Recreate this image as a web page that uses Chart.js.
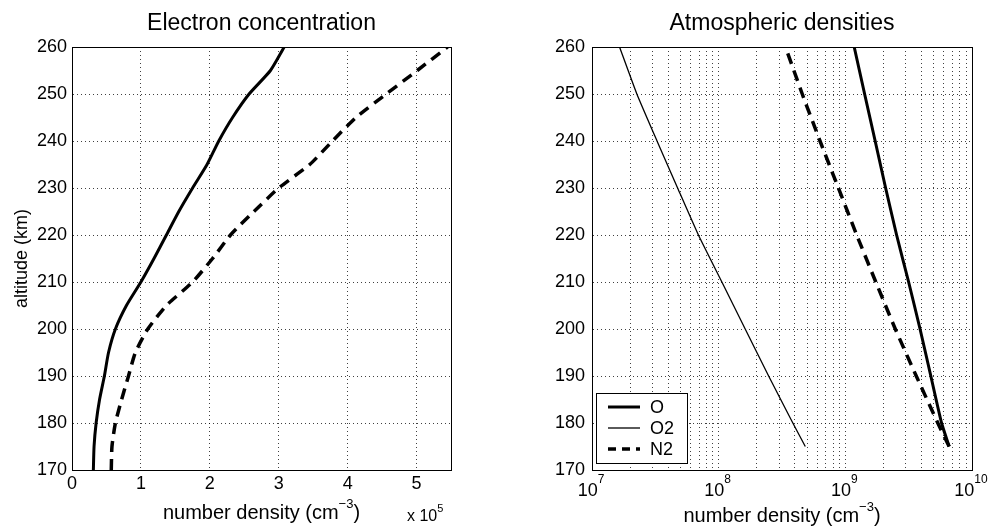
<!DOCTYPE html>
<html>
<head>
<meta charset="utf-8">
<script src="https://cdn.jsdelivr.net/npm/chart.js@4.4.1/dist/chart.umd.min.js"></script>
<style>
  html, body { margin: 0; padding: 0; background: #fff; }
  body { width: 991px; height: 526px; position: relative; overflow: hidden; }
  .plot { position: absolute; top: 0; }
  #left-wrap { left: 0; }
  #right-wrap { left: 495px; }
</style>
</head>
<body>
<div class="plot" id="left-wrap"><canvas id="electronChart" width="480" height="526"></canvas></div>
<div class="plot" id="right-wrap"><canvas id="densityChart" width="496" height="526"></canvas></div>
<script>
const FONT = '"Liberation Sans", Arial, Helvetica, sans-serif';

// Electron concentration, values in units of 1e5 cm^-3
const electronAltitudes = [170, 175, 180, 185, 190, 195, 200, 205, 210, 215, 220, 225, 230, 235, 240, 245, 250, 255, 260];
const electronSolid  = [0.31, 0.32, 0.35, 0.40, 0.47, 0.53, 0.63, 0.79, 1.00, 1.19, 1.37, 1.55, 1.75, 1.96, 2.13, 2.33, 2.57, 2.88, 3.08];
const electronDashed = [0.57, 0.58, 0.63, 0.72, 0.82, 0.92, 1.10, 1.37, 1.75, 2.04, 2.30, 2.64, 3.00, 3.45, 3.78, 4.12, 4.56, 5.01, 5.45];
const electronTicks = [0, 1, 2, 3, 4, 5];

// Atmospheric densities, cm^-3
const densityAltitudes = [175, 180, 190, 200, 210, 220, 230, 240, 250, 260];
const densityO  = [6.6e9, 5.75e9, 4.73e9, 3.89e9, 3.16e9, 2.54e9, 2.08e9, 1.72e9, 1.42e9, 1.175e9];
const densityO2 = [4.83e8, 3.85e8, 2.48e8, 1.62e8, 1.06e8, 6.92e7, 4.74e7, 3.26e7, 2.26e7, 1.65e7];
const densityN2 = [6.6e9, 5.37e9, 3.63e9, 2.48e9, 1.74e9, 1.23e9, 8.81e8, 6.31e8, 4.57e8, 3.37e8];
const densityDecades = [7, 8, 9, 10];

const altitudeTicks = [170, 180, 190, 200, 210, 220, 230, 240, 250, 260];

// Helpers
function toPoints(values, altitudes) {
    return values.map((v, i) => ({ x: v, y: altitudes[i] }));
}

// Draw a string made of pieces (normal text + superscripts), centered or left aligned
function drawRichText(ctx, pieces, x, y, align) {
    ctx.save();
    ctx.textBaseline = 'middle';
    ctx.textAlign = 'left';
    ctx.fillStyle = '#000';
    let total = 0;
    pieces.forEach(p => {
        ctx.font = `${p.size}px ${FONT}`;
        p.w = ctx.measureText(p.text).width;
        total += p.w;
    });
    let cx = align === 'left' ? x : x - total / 2;
    pieces.forEach(p => {
        ctx.font = `${p.size}px ${FONT}`;
        ctx.fillText(p.text, cx, y + (p.dy || 0));
        cx += p.w;
    });
    ctx.restore();
}

function numberDensityTitle(ctx, cx, cy) {
    drawRichText(ctx, [
        { text: 'number density (cm', size: 20 },
        { text: '\u22123', size: 13, dy: -9 },
        { text: ')', size: 20 }
    ], cx, cy, 'center');
}

// Closed box around the plot area
const frame = {
    id: 'frame',
    afterDatasetsDraw(chart) {
        const { ctx, chartArea: a } = chart;
        ctx.save();
        ctx.strokeStyle = '#000';
        ctx.lineWidth = 1;
        ctx.setLineDash([]);
        ctx.strokeRect(Math.round(a.left) + 0.5, Math.round(a.top) + 0.5,
            Math.round(a.right - a.left), Math.round(a.bottom - a.top));
        ctx.restore();
    }
};

const gridStyle = { color: 'rgba(0,0,0,0.75)', lineWidth: 1, drawTicks: false };
const borderStyle = { color: '#000', width: 1, dash: [1, 3] };
const tickFont = { family: FONT, size: 18 };

function yAxis(width, pad, withTitle) {
    return {
        type: 'linear',
        min: 170,
        max: 260,
        afterBuildTicks: s => { s.ticks = altitudeTicks.map(v => ({ value: v })); },
        afterFit: s => { s.width = width; },
        grid: gridStyle,
        border: borderStyle,
        ticks: { color: '#000', font: tickFont, padding: pad },
        title: {
            display: withTitle,
            text: 'altitude (km)',
            color: '#000',
            font: { family: FONT, size: 18 },
            padding: { top: 11, bottom: 0 }
        }
    };
}

function titleOpts(text) {
    return {
        display: true,
        text: text,
        color: '#000',
        fullSize: false,
        font: { family: FONT, size: 23, weight: 'normal', lineHeight: 1.2 },
        padding: { top: 10, bottom: 9.4 }
    };
}

// Left chart: electron concentration
const electronChart = new Chart(document.getElementById('electronChart'), {
    type: 'line',
    data: {
        datasets: [
            {
                label: 'solid',
                data: toPoints(electronSolid, electronAltitudes),
                borderColor: '#000',
                borderWidth: 3,
                pointRadius: 0,
                tension: 0.2,
                fill: false
            },
            {
                label: 'dashed',
                data: toPoints(electronDashed, electronAltitudes),
                borderColor: '#000',
                borderWidth: 3.5,
                borderDash: [11, 7],
                pointRadius: 0,
                tension: 0.2,
                fill: false
            }
        ]
    },
    options: {
        responsive: false,
        animation: false,
        layout: { padding: { left: 0, right: 29, top: 0, bottom: 2 } },
        plugins: {
            legend: { display: false },
            tooltip: { enabled: false },
            title: titleOpts('Electron concentration')
        },
        scales: {
            x: {
                type: 'linear',
                min: 0,
                max: 5.5,
                afterBuildTicks: s => { s.ticks = electronTicks.map(v => ({ value: v })); },
                afterFit: s => { s.height = 54; },
                grid: gridStyle,
                border: borderStyle,
                ticks: { color: '#000', font: tickFont, padding: 3 }
            },
            y: yAxis(72, 5, true)
        }
    },
    plugins: [frame, {
        id: 'electronLabels',
        afterDraw(chart) {
            const { ctx, chartArea: a } = chart;
            numberDensityTitle(ctx, (a.left + a.right) / 2, 513);
            drawRichText(ctx, [
                { text: 'x 10', size: 16 },
                { text: '5', size: 11, dy: -8 }
            ], 407, 517, 'left');
        }
    }]
});

// Right chart: atmospheric densities
const densityChart = new Chart(document.getElementById('densityChart'), {
    type: 'line',
    data: {
        datasets: [
            {
                label: 'O',
                data: toPoints(densityO, densityAltitudes),
                borderColor: '#000',
                borderWidth: 3,
                pointRadius: 0,
                tension: 0.15,
                fill: false
            },
            {
                label: 'O2',
                data: toPoints(densityO2, densityAltitudes),
                borderColor: '#000',
                borderWidth: 1.3,
                pointRadius: 0,
                tension: 0.15,
                fill: false
            },
            {
                label: 'N2',
                data: toPoints(densityN2, densityAltitudes),
                borderColor: '#000',
                borderWidth: 3.5,
                borderDash: [11, 7],
                pointRadius: 0,
                tension: 0.15,
                fill: false
            }
        ]
    },
    options: {
        responsive: false,
        animation: false,
        layout: { padding: { left: 0, right: 19, top: 0, bottom: 2 } },
        plugins: {
            legend: { display: false },
            tooltip: { enabled: false },
            title: titleOpts('Atmospheric densities')
        },
        scales: {
            x: {
                type: 'logarithmic',
                min: Math.pow(10, densityDecades[0]),
                max: Math.pow(10, densityDecades[densityDecades.length - 1]),
                afterBuildTicks: s => {
                    const ticks = [];
                    densityDecades.slice(0, -1).forEach(e => {
                        for (let m = 1; m <= 9; m++) ticks.push({ value: m * Math.pow(10, e) });
                    });
                    ticks.push({ value: Math.pow(10, densityDecades[densityDecades.length - 1]) });
                    s.ticks = ticks;
                },
                afterFit: s => { s.height = 54; },
                grid: gridStyle,
                border: borderStyle,
                ticks: { display: false, autoSkip: false }
            },
            y: yAxis(97, 7, false)
        }
    },
    plugins: [frame, {
        id: 'densityLabels',
        afterDraw(chart) {
            const { ctx, chartArea: a, scales } = chart;
            // decade tick labels as 10^n
            densityDecades.forEach(e => {
                const px = scales.x.getPixelForValue(Math.pow(10, e));
                drawRichText(ctx, [
                    { text: '10', size: 18 },
                    { text: String(e), size: 12, dy: -11 }
                ], px - 1, 491, 'center');
            });
            numberDensityTitle(ctx, (a.left + a.right) / 2, 516);

            // legend box in the lower left corner
            const bx = a.left + 4, by = a.bottom - 77, bw = 91, bh = 70;
            ctx.save();
            ctx.fillStyle = '#fff';
            ctx.fillRect(bx, by, bw, bh);
            ctx.strokeStyle = '#000';
            ctx.lineWidth = 1;
            ctx.strokeRect(Math.round(bx) + 0.5, Math.round(by) + 0.5, bw, bh);
            chart.data.datasets.forEach((ds, i) => {
                const ly = by + 14 + i * 21;
                ctx.beginPath();
                ctx.lineWidth = ds.borderWidth;
                ctx.setLineDash(ds.borderDash ? [8, 6] : []);
                ctx.moveTo(bx + 12, ly);
                ctx.lineTo(bx + 44, ly);
                ctx.stroke();
                ctx.setLineDash([]);
                ctx.fillStyle = '#000';
                ctx.font = `18px ${FONT}`;
                ctx.textBaseline = 'middle';
                ctx.textAlign = 'left';
                ctx.fillText(ds.label, bx + 54, ly + 1);
            });
            ctx.restore();
        }
    }]
});
</script>
</body>
</html>
